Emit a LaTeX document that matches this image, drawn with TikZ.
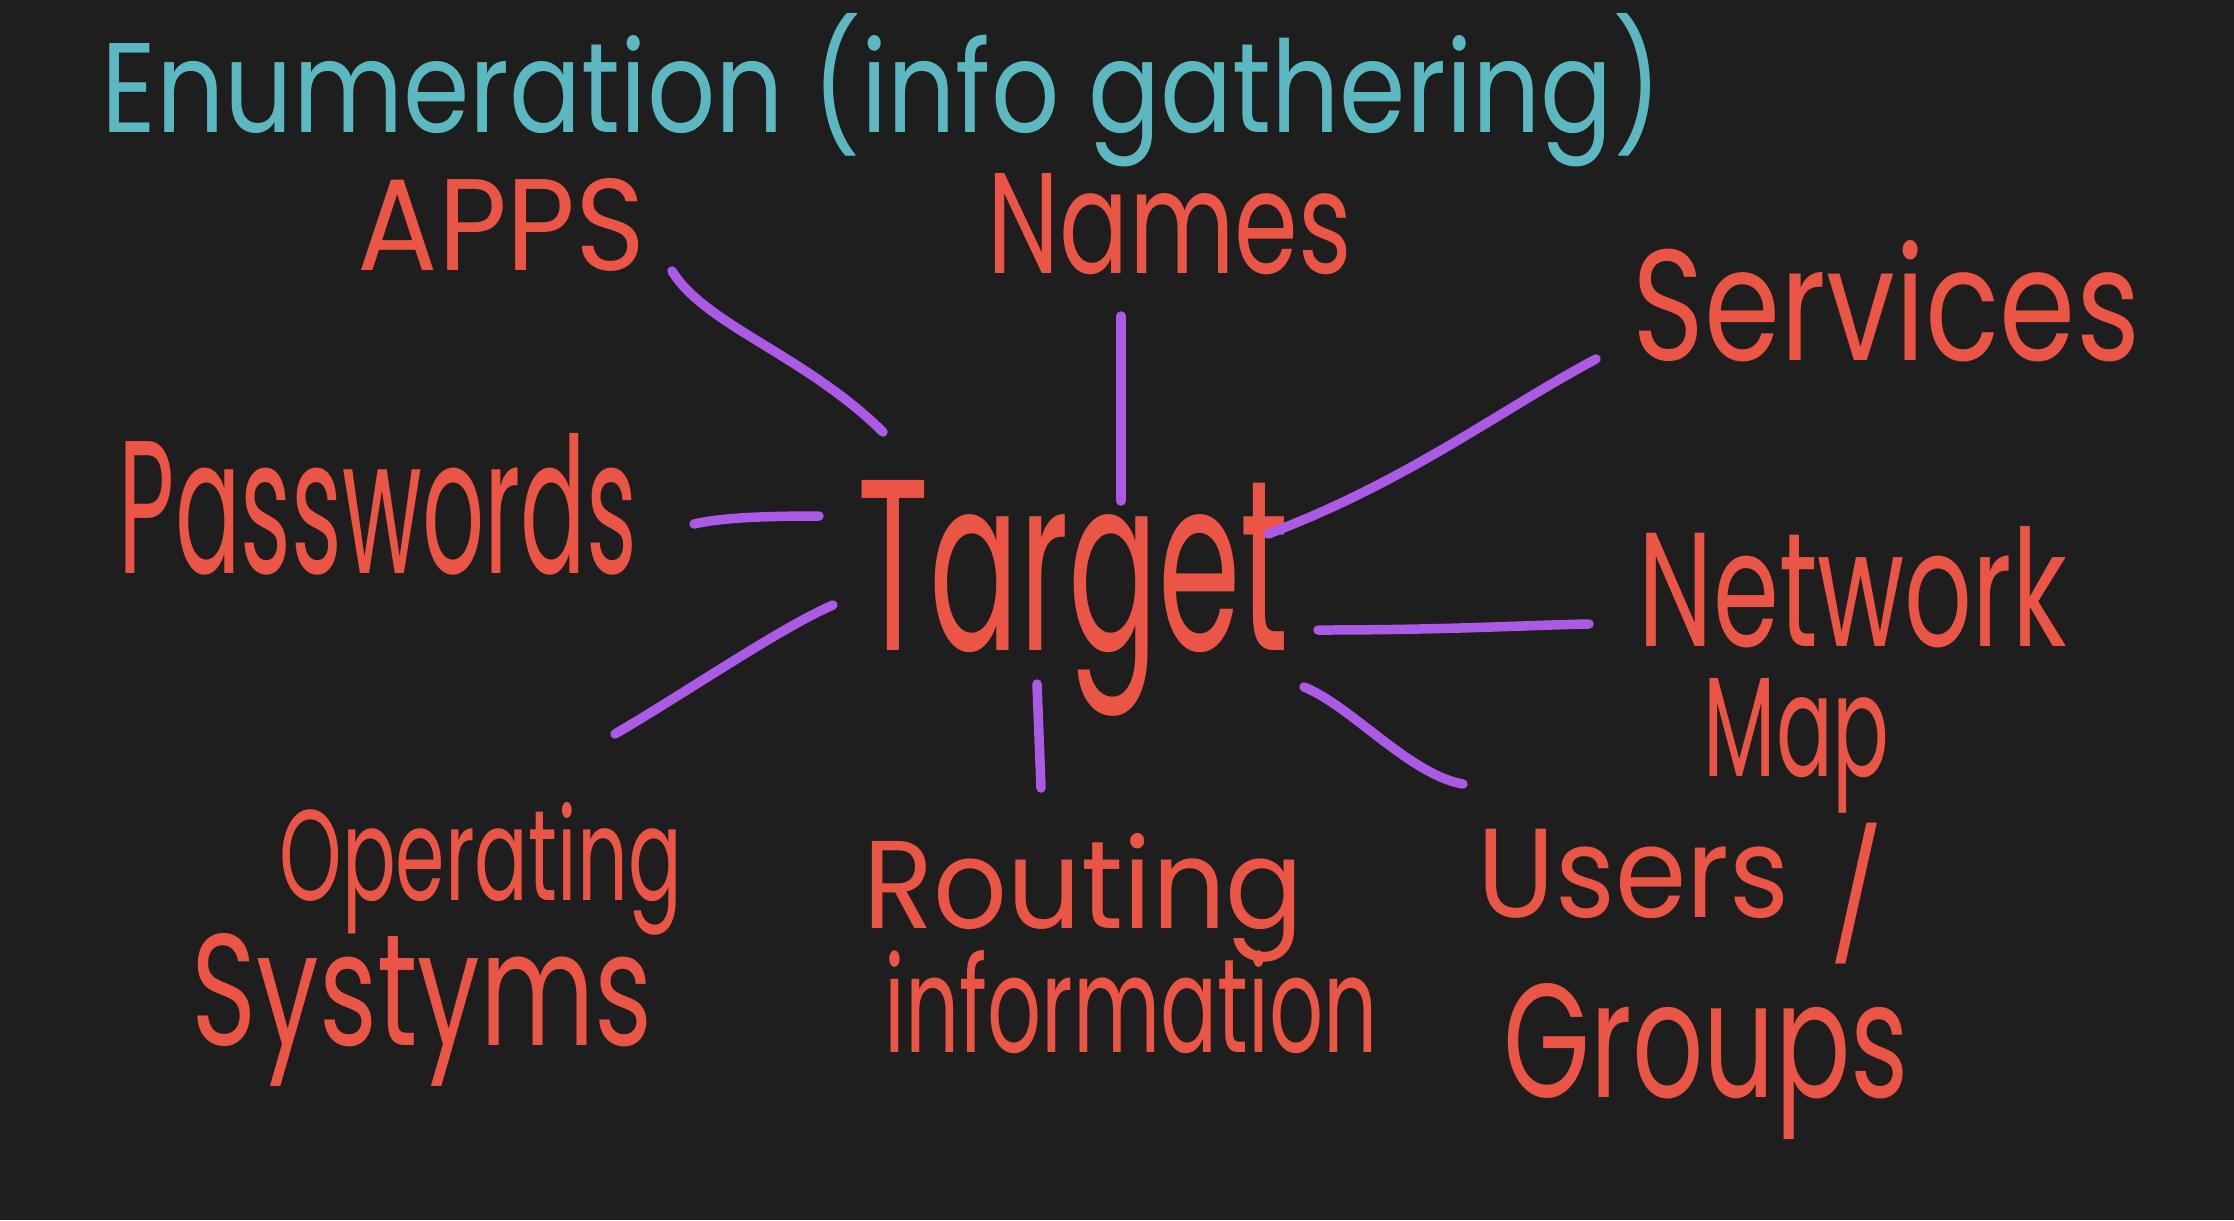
\documentclass[tikz,border=0pt]{standalone}
\usepackage{fontspec}
\usepackage{graphicx}
\setmainfont{Poppins}
\definecolor{bg}{HTML}{1E1E1E}
\definecolor{hred}{HTML}{EB5546}
\definecolor{hcyan}{HTML}{5CB8C0}
\definecolor{hpurple}{HTML}{AA5AE4}
\newcommand{\fitbox}[3]{\resizebox{#1cm}{#2cm}{#3}}
\begin{document}
\begin{tikzpicture}[x=0.01cm,y=-0.01cm,
  lbl/.style={text=hred,anchor=base west,inner sep=0pt,font=\fontsize{40}{44}\selectfont},
  link/.style={draw=hpurple,line width=2.7pt,line cap=round,line join=round}]
\fill[bg] (0,0) rectangle (2234,1220);
\useasboundingbox (0,0) rectangle (2234,1220);
\node[lbl,text=hcyan] (title) at (101,132) {\fitbox{15.59}{1.19}{Enumeration (info gathering)}};
\node[lbl] (apps) at (357,270) {\fitbox{2.88}{0.92}{APPS}};
\node[lbl] (names) at (987,273) {\fitbox{3.64}{1.00}{Names}};
\node[lbl] (services) at (1632,360) {\fitbox{5.07}{1.20}{Services}};
\node[lbl] (passwords) at (118,573) {\fitbox{5.18}{1.40}{Passwords}};
\node[lbl] (target) at (857,650) {\fitbox{4.31}{1.70}{Target}};
\node[lbl] (network) at (1638,646) {\fitbox{4.28}{1.20}{Network}};
\node[lbl] (map) at (1703,776) {\fitbox{1.86}{0.98}{Map}};
\node[lbl] (operating) at (279,900) {\fitbox{4.02}{0.98}{Operating}};
\node[lbl] (systyms) at (191,1045) {\fitbox{4.61}{1.12}{Systyms}};
\node[lbl] (routing) at (863,928) {\fitbox{4.40}{0.95}{Routing}};
\node[lbl] (information) at (884,1052) {\fitbox{4.93}{1.02}{information}};
\node[lbl] (users) at (1477,917) {\fitbox{4.06}{0.94}{Users\hspace{0.35em}\raisebox{-0.2em}{/}}};
\node[lbl] (groups) at (1503,1097) {\fitbox{4.05}{1.14}{Groups}};
\coordinate (a1) at (672,271); \coordinate (a2) at (883,432);
\draw[link] (a1) .. controls (705,325) and (805,355) .. (a2);
\coordinate (n1) at (1121,316); \coordinate (n2) at (1121,501);
\draw[link] (n1) -- (n2);
\coordinate (s1) at (1596,359); \coordinate (s2) at (1268,534);
\draw[link] (s1) .. controls (1500,410) and (1410,480) .. (s2);
\coordinate (p1) at (694,524); \coordinate (p2) at (819,516);
\draw[link] (p1) .. controls (720,518) and (760,516) .. (p2);
\coordinate (w1) at (1318,630); \coordinate (w2) at (1589,624);
\draw[link] (w1) .. controls (1450,630) and (1530,625) .. (w2);
\coordinate (o1) at (833,605); \coordinate (o2) at (615,734);
\draw[link] (o1) .. controls (780,628) and (690,690) .. (o2);
\coordinate (r1) at (1037,684); \coordinate (r2) at (1041,788);
\draw[link] (r1) -- (r2);
\coordinate (u1) at (1304,687); \coordinate (u2) at (1463,784);
\draw[link] (u1) .. controls (1350,705) and (1410,775) .. (u2);
\end{tikzpicture}
\end{document}
